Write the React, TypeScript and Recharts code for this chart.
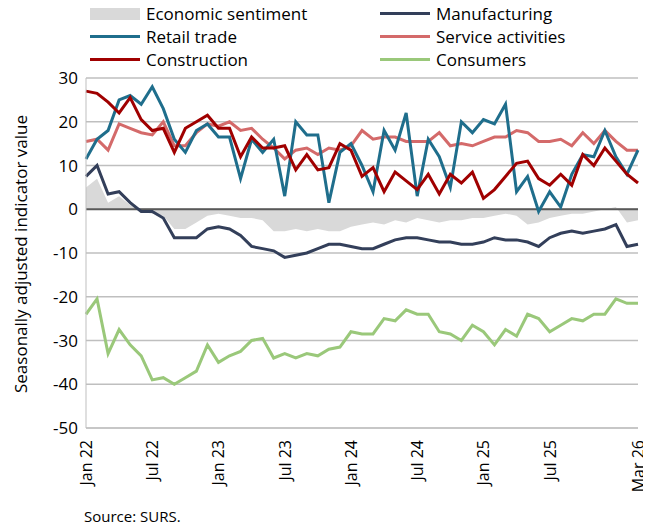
import React from 'react';
import { ComposedChart, Line, Area, XAxis, YAxis, CartesianGrid, ReferenceLine } from 'recharts';

const months = (() => {
  const m = ['Jan','Feb','Mar','Apr','May','Jun','Jul','Aug','Sep','Oct','Nov','Dec'];
  const out: string[] = [];
  for (let y = 22; y <= 26; y++) for (let i = 0; i < 12; i++) { if (y === 26 && i > 2) break; out.push(`${m[i]} ${y}`); }
  return out;
})();
const tickLabels = ['Jan 22','Jul 22','Jan 23','Jul 23','Jan 24','Jul 24','Jan 25','Jul 25','Mar 26'];

const sentiment = [5,7,1.5,3,1,-0.5,-1,-1.5,-4.5,-4.5,-3,-1.5,-1,-1.5,-2,-2,-2.5,-5,-5,-4.5,-5,-4.5,-5,-5,-4,-3.5,-3,-3.5,-2.5,-3,-2,-2.5,-3,-2.5,-2.5,-2,-2,-1.5,-1,-1.5,-3.5,-3,-2,-1.5,-1,-1,-0.5,0,0.5,-3,-2.5];
const manufacturing = [7.5,10,3.5,4,1.5,-0.5,-0.5,-2,-6.5,-6.5,-6.5,-4.5,-4,-4.5,-6,-8.5,-9,-9.5,-11,-10.5,-10,-9,-8,-8,-8.5,-9,-9,-8,-7,-6.5,-6.5,-7,-7.5,-7.5,-8,-8,-7.5,-6.5,-7,-7,-7.5,-8.5,-6.5,-5.5,-5,-5.5,-5,-4.5,-3.5,-8.5,-8];
const retail = [11.5,16,18,25,26,24,28,23,16,13,18,19.5,16.5,16.5,7,16,13,16,3,20,17,17,1.5,13,15,10,4,18,13.5,22,3,16,12,5,20,17.5,20.5,19.5,24,4,7.5,-0.5,4,0.5,8,12.5,12,18,12,8,13.5];
const services = [15.5,16,13.5,19.5,18.5,17.5,17,20,14.5,14.5,17.5,19.5,19,20,18,18.5,16,14,11.5,13.5,14,12.5,14,13.5,14.5,18,16,16.5,16.5,15.5,15.5,15.5,17.5,14.5,15,14.5,15.5,16.5,16.5,18,17.5,15.5,15.5,16,14.5,17.5,15,18,15.5,13.5,13.5];
const construction = [27,26.5,24.5,22,25.5,20.5,18,18.5,13,18.5,20,21.5,18.5,18.5,12,16.5,14,14,14.5,9,12.5,9,9.5,15,13.5,7.5,9.5,4,8.5,6.5,4.5,8,3.5,8,6,8.5,2.5,4.5,7.5,10.5,11,7,5.5,8,5.5,12.5,10,14,11,8,6];
const consumers = [-24,-20.5,-33,-27.5,-31,-33.5,-39,-38.5,-40,-38.5,-37,-31,-35,-33.5,-32.5,-30,-29.5,-34,-33,-34,-33,-33.5,-32,-31.5,-28,-28.5,-28.5,-25,-25.5,-23,-24,-24,-28,-28.5,-30,-26.5,-28,-31,-27.5,-29,-24,-25,-28,-26.5,-25,-25.5,-24,-24,-20.5,-21.5,-21.5];

const data = months.map((m, i) => ({
  m, sentiment: sentiment[i], manufacturing: manufacturing[i], retail: retail[i],
  services: services[i], construction: construction[i], consumers: consumers[i],
}));

const font = '"Open Sans", "Liberation Sans", sans-serif';
const legendItems = [
  { label: 'Economic sentiment', color: '#d9d9d9', area: true },
  { label: 'Manufacturing', color: '#333f5a' },
  { label: 'Retail trade', color: '#1f6e8c' },
  { label: 'Service activities', color: '#d46a6a' },
  { label: 'Construction', color: '#a00000' },
  { label: 'Consumers', color: '#9ac87a' },
];

const XTick = (props: any) => {
  const { x, y, payload } = props;
  return (
    <text x={x + 6} y={y + 4} transform={`rotate(-90 ${x + 6} ${y + 4})`} textAnchor="end" fontSize={16} fill="#000" fontFamily={font}>
      {payload.value}
    </text>
  );
};

export default function App() {
  return (
    <div style={{ position: 'relative', width: 643, height: 516, fontFamily: font }}>
      <div style={{ position: 'absolute', left: 0, top: -6, width: 643, height: 75 }}>
        {legendItems.map((it, i) => {
          const col = i % 2, row = Math.floor(i / 2);
          const left = col === 0 ? 82 : 372;
          return (
            <div key={it.label} style={{ position: 'absolute', left, top: row * 23, display: 'flex', alignItems: 'center', fontSize: 17, whiteSpace: 'nowrap' }}>
              <span style={{ display: 'inline-block', width: 50, height: it.area ? 12 : 3, background: it.color, marginRight: 6 }} />
              {it.label}
            </div>
          );
        })}
      </div>
      <ComposedChart width={643} height={500} data={data} margin={{ top: 70, right: 13, bottom: 12, left: 22 }}>
        <CartesianGrid vertical={false} stroke="#bfbfbf" strokeWidth={1.5} />
        <XAxis dataKey="m" ticks={tickLabels} interval={0} tick={<XTick />} tickLine={false} axisLine={{ stroke: '#bfbfbf' }} height={68} />
        <YAxis domain={[-50, 30]} ticks={[-50, -40, -30, -20, -10, 0, 10, 20, 30]} width={56} tickLine={false} axisLine={{ stroke: '#bfbfbf' }}
          tick={{ fontSize: 17, fill: '#000', fontFamily: font }}
          label={{ value: 'Seasonally adjusted indicator value', angle: -90, position: 'insideLeft', dx: -14, dy: 140, style: { fontSize: 17, fill: '#000', fontFamily: font } }} />
        <YAxis yAxisId="r" orientation="right" width={0} tick={false} tickLine={false} axisLine={{ stroke: '#bfbfbf' }} />
        <Area dataKey="sentiment" stroke="none" fill="#d9d9d9" fillOpacity={1} isAnimationActive={false} baseValue={0} />
        <ReferenceLine y={0} stroke="#595959" strokeWidth={2} />
        <Line dataKey="manufacturing" stroke="#333f5a" strokeWidth={3} dot={false} isAnimationActive={false} />
        <Line dataKey="services" stroke="#d46a6a" strokeWidth={3} dot={false} isAnimationActive={false} />
        <Line dataKey="retail" stroke="#1f6e8c" strokeWidth={3} dot={false} isAnimationActive={false} />
        <Line dataKey="construction" stroke="#a00000" strokeWidth={3} dot={false} isAnimationActive={false} />
        <Line dataKey="consumers" stroke="#9ac87a" strokeWidth={3} dot={false} isAnimationActive={false} />
      </ComposedChart>
      <div style={{ position: 'absolute', left: 76, top: 498, fontSize: 15 }}>Source: SURS.</div>
    </div>
  );
}
